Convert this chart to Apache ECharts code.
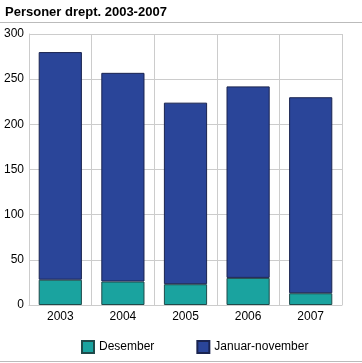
<!DOCTYPE html>
<html><head><meta charset="utf-8">
<script src="https://cdn.jsdelivr.net/npm/echarts@6/dist/echarts.min.js"></script>
<style>html,body{margin:0;padding:0;background:#fff}#c{width:362px;height:363px}</style>
</head><body><div id="c"></div>
<script>
const categories = ['2003','2004','2005','2006','2007'];
const desember = [28, 26, 23, 30, 13];
const januarNovember = [252, 231, 201, 212, 217];
const yTicks = [0, 50, 100, 150, 200, 250, 300];

const chart = echarts.init(document.getElementById('c'), null, {renderer:'canvas'});
const font = 'Liberation Sans, Arial, sans-serif';
chart.setOption({
  animation:false,
  title:{text:'Personer drept. 2003-2007', left:0, top:1,
    textStyle:{fontFamily:font, fontSize:13, fontWeight:'bold', color:'#000'}},
  graphic:[
    {type:'line', shape:{x1:0,y1:22.5,x2:362,y2:22.5}, style:{stroke:'#bbb', lineWidth:1}},
    {type:'line', shape:{x1:0,y1:361.5,x2:362,y2:361.5}, style:{stroke:'#bbb', lineWidth:1}}
  ],
  grid:{left:29, right:20, top:34, bottom:58, containLabel:false},
  legend:{bottom:4, left:76, itemWidth:12, itemHeight:12, itemGap:42, icon:'rect',
    textStyle:{fontFamily:font, fontSize:12, color:'#000'},
    data:['Desember','Januar-november']},
  xAxis:{type:'category', data:categories,
    axisTick:{show:false},
    axisLine:{lineStyle:{color:'#ccc'}},
    axisLabel:{fontFamily:font, fontSize:12, color:'#000', margin:6},
    splitLine:{show:true, lineStyle:{color:'#ccc'}}},
  yAxis:{type:'value', min:yTicks[0], max:yTicks[yTicks.length-1], interval:50,
    axisLine:{show:true, lineStyle:{color:'#ccc'}},
    axisTick:{show:false},
    axisLabel:{fontFamily:font, fontSize:12, color:'#000', margin:5},
    splitLine:{lineStyle:{color:'#ccc'}}},
  series:[
    {name:'Desember', type:'bar', stack:'a', data:desember, barWidth:'69%',
     itemStyle:{color:'#1aa39f', borderColor:'#1f4a4a', borderWidth:1}},
    {name:'Januar-november', type:'bar', stack:'a', data:januarNovember, barWidth:'69%',
     itemStyle:{color:'#2a4599', borderColor:'#1a2450', borderWidth:1}}
  ]
});
</script></body></html>
